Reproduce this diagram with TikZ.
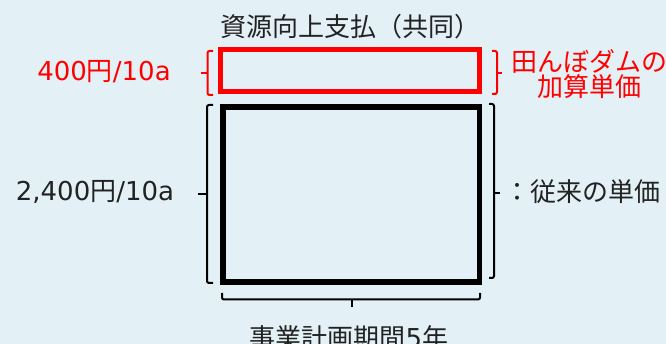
\documentclass[tikz,border=0pt]{standalone}
\usepackage{fontspec}
\setmainfont{Noto Sans CJK JP}
\newfontfamily\numfont{DejaVu Sans}
\usetikzlibrary{positioning}
\definecolor{bgblue}{RGB}{227,241,246}
\definecolor{txtgray}{RGB}{34,34,34}
\newcommand{\lblSize}{\fontsize{26}{23}\selectfont}
\newcommand{\num}[1]{{\numfont #1}}

\begin{document}
\begin{tikzpicture}[x=1pt, y=-1pt,
		lbl/.style={font=\lblSize, text=txtgray, inner sep=0pt},
		redlbl/.style={lbl, text=red},
		box/.style={draw, inner sep=0pt},
		brk/.style={line width=2pt, rounded corners=2pt}]
	\fill[bgblue] (0,0) rectangle (666,344);
	\useasboundingbox (0,0) rectangle (666,344);
	% boxes
	\node[box, draw=red, line width=5pt, minimum width=259.5pt, minimum height=42pt] (addbox) at (349.75,71) {};
	\node[box, line width=5.5pt, minimum width=256.5pt, minimum height=175pt] (basebox) at (351.25,194.5) {};
	% brackets
	\draw[brk, red] (213,51) -- (207.5,51) -- (207.5,95) -- (213,95);
	\draw[brk, red] (207.5,73) -- (200.5,73);
	\draw[brk, red] (492,51) -- (497,51) -- (497,94) -- (492,94);
	\draw[brk, red] (497,73) -- (502,73);
	\draw[brk] (213,105) -- (207,105) -- (207,283) -- (213,283);
	\draw[brk] (207,194) -- (198,194);
	\draw[brk] (489,104) -- (494,104) -- (494,278) -- (489,278);
	\draw[brk] (494,193) -- (500,193);
	\draw[brk] (222,293) -- (222,299.5) -- (480,299.5) -- (480,293);
	\draw[brk] (351.5,299.5) -- (351.5,307);
	% labels
	\node[lbl] (title) at (350,27) {資源向上支払（共同）};
	\node[redlbl] (addprice) at (104,72) {\num{400}円\num{/10a}};
	\node[redlbl, align=center] (addname) at (589,74) {田んぼダムの\\加算単価};
	\node[lbl] (baseprice) at (95,192) {\num{2,400}円\num{/10a}};
	\node[lbl] (basename) at (582,192) {：従来の単価};
	\node[lbl] (period) at (349,338) {事業計画期間\num{5}年};
\end{tikzpicture}
\end{document}
